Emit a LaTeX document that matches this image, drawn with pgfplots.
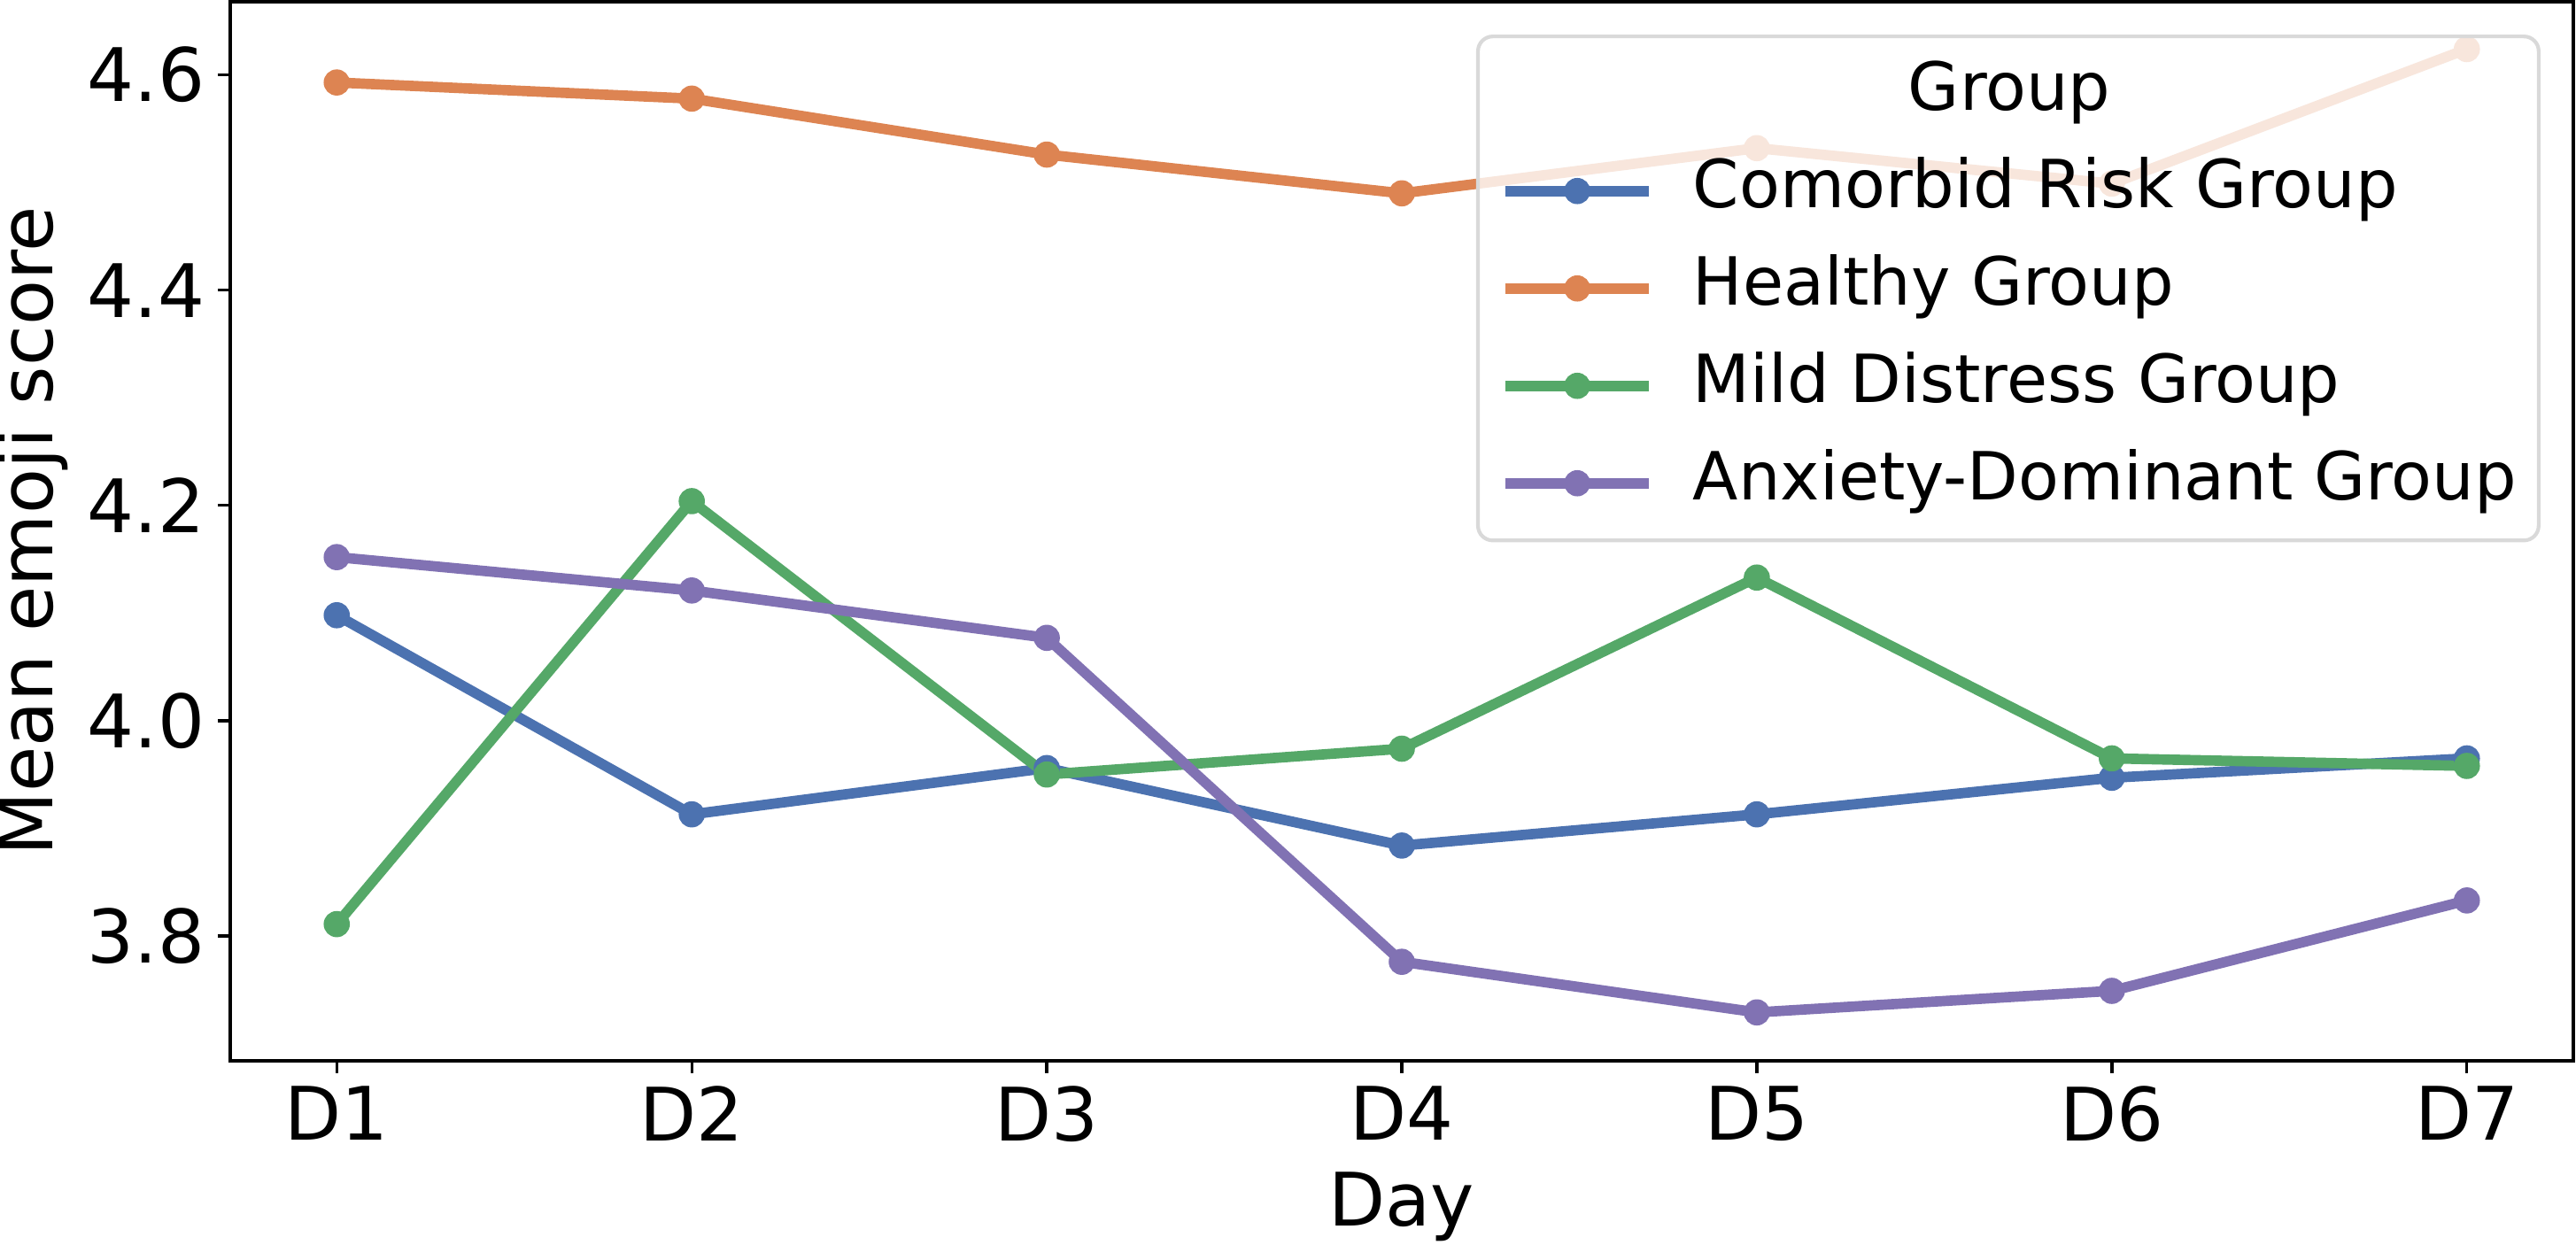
\documentclass[border=0pt]{standalone}
\usepackage{pgfplots}
\pgfplotsset{compat=1.18}
\usepackage{fontspec}
\setmainfont{DejaVu Sans}
\definecolor{cblue}{RGB}{76,114,176}
\definecolor{corange}{RGB}{221,132,82}
\definecolor{cgreen}{RGB}{85,168,104}
\definecolor{cpurple}{RGB}{129,114,179}
\begin{document}
\begin{tikzpicture}
\useasboundingbox (0,0) rectangle (698.16bp,337.44bp);
\begin{axis}[
 at={(62.4bp,49.92bp)}, anchor=south west,
 scale only axis, width=635.04bp, height=287.04bp,
 xmin=-0.3, xmax=6.3, ymin=3.684, ymax=4.668,
 xtick={0,1,2,3,4,5,6}, xticklabels={D1,D2,D3,D4,D5,D6,D7},
 ytick={3.8,4.0,4.2,4.4,4.6},
 yticklabel style={/pgf/number format/.cd, fixed, fixed zerofill, precision=1, assume math mode=true},
 tick label style={font=\fontsize{20bp}{24bp}\selectfont},
 label style={font=\fontsize{20bp}{24bp}\selectfont},
 xlabel={Day}, ylabel={Mean emoji score},
 x label style={at={(axis description cs:0.5,-0.138)}, anchor=center},
 y label style={at={(axis description cs:-0.0843,0.5)}, anchor=center},
 tick align=outside, xtick pos=bottom, ytick pos=left,
 major tick length=3.4bp,
 tick style={black, line width=0.8bp},
 axis line style={line width=0.9bp},
 every axis plot/.append style={line width=2.8bp, line join=round, mark=*, mark size=3.3bp},
 legend cell align=left,
 legend image code/.code={\draw[#1, fill opacity=1, draw opacity=1, mark repeat=2, mark phase=2] plot coordinates {(0bp,0bp) (19.5bp,0bp) (39bp,0bp)};},
 legend style={at={(rel axis cs:1,1)}, anchor=north east, xshift=-8.9bp, yshift=-8.9bp,
   draw=black!15, line width=1bp, rounded corners=4bp, fill=white, fill opacity=0.8, draw opacity=1, text opacity=1,
   font=\fontsize{18bp}{22bp}\selectfont, inner xsep=6bp, inner ysep=7bp, row sep=9.4bp, column sep=10.5bp,
   nodes={inner sep=0pt, text height=13bp, text depth=4bp}},
]
\addlegendimage{empty legend}
\addlegendentry{\makebox[0pt][l]{\hspace{85.2bp}\makebox[0pt][c]{Group}}}
\addplot[color=cblue, mark options={fill=cblue, draw=cblue, line width=0.5bp}] coordinates {(0,4.098) (1,3.913) (2,3.956) (3,3.884) (4,3.913) (5,3.947) (6,3.965)};
\addlegendentry{Comorbid Risk Group}
\addplot[color=corange, mark options={fill=corange, draw=corange, line width=0.5bp}] coordinates {(0,4.593) (1,4.578) (2,4.526) (3,4.490) (4,4.532) (5,4.499) (6,4.624)};
\addlegendentry{Healthy Group}
\addplot[color=cgreen, mark options={fill=cgreen, draw=cgreen, line width=0.5bp}] coordinates {(0,3.811) (1,4.204) (2,3.950) (3,3.974) (4,4.133) (5,3.965) (6,3.958)};
\addlegendentry{Mild Distress Group}
\addplot[color=cpurple, mark options={fill=cpurple, draw=cpurple, line width=0.5bp}] coordinates {(0,4.152) (1,4.121) (2,4.077) (3,3.776) (4,3.729) (5,3.749) (6,3.833)};
\addlegendentry{Anxiety-Dominant Group}
\end{axis}
\end{tikzpicture}
\end{document}
